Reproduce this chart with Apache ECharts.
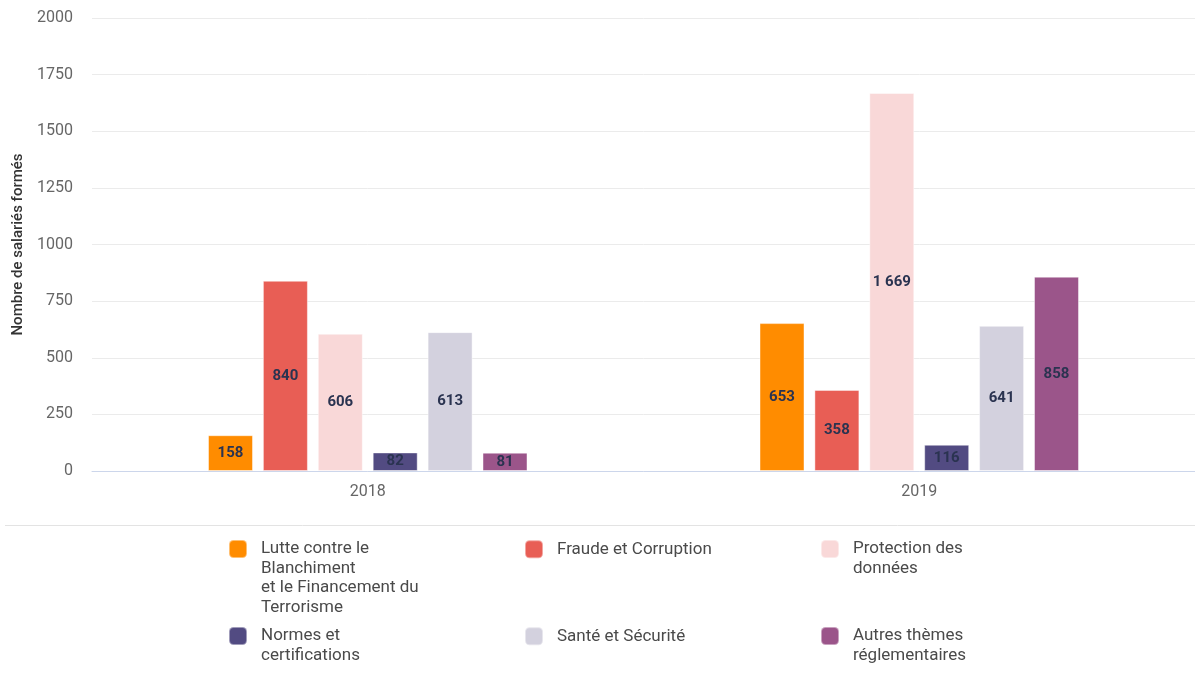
<!DOCTYPE html>
<html>
<head>
<meta charset="utf-8">
<script src="https://cdn.jsdelivr.net/npm/echarts@6/dist/echarts.min.js"></script>
<style>
  html, body { margin: 0; padding: 0; background: #fff; }
  #chart { width: 1195px; height: 673px; }
</style>
</head>
<body>
<div id="chart"></div>
<script>
const years = ['2018', '2019'];
const seriesNames = [
  'Lutte contre le\nBlanchiment\net le Financement du\nTerrorisme',
  'Fraude et Corruption',
  'Protection des\ndonnées',
  'Normes et\ncertifications',
  'Santé et Sécurité',
  'Autres thèmes\nréglementaires'
];
const blanchiment = [158, 653];
const fraude = [840, 358];
const protection = [606, 1669];
const normes = [82, 116];
const sante = [613, 641];
const autres = [81, 858];
const yTicks = [0, 250, 500, 750, 1000, 1250, 1500, 1750, 2000];

const colors = ['#ff8c00', '#e85e55', '#f9d8d8', '#524b82', '#d3d1de', '#9b558a'];
const values = [blanchiment, fraude, protection, normes, sante, autres];

const chart = echarts.init(document.getElementById('chart'));

const lineH = 19.5;
const iconSize = 18;
// legend laid out as 3 columns x 2 rows (icon top-left corners)
const legendPos = [
  [228, 540], [524, 540], [820, 540],
  [228, 627], [524, 627], [820, 627]
];

const legends = seriesNames.map((name, i) => {
  const n = name.split('\n').length;
  // blank lines in front keep the first text line level with the icon;
  // the legend box then reaches above the icon, so lift it by that much
  const overhang = (2 * n - 1) * lineH / 2 - iconSize / 2;
  return {
    data: [name],
    left: legendPos[i][0],
    top: legendPos[i][1] - overhang,
    padding: 0,
    itemWidth: iconSize,
    itemHeight: iconSize,
    icon: 'roundRect',
    selectedMode: false,
    formatter: t => '\n'.repeat(n - 1) + t,
    textStyle: {
      fontFamily: 'Roboto',
      fontSize: 17,
      color: '#4a4a4a',
      lineHeight: lineH,
      padding: [0, 0, 0, 9]
    }
  };
});

const series = seriesNames.map((name, i) => ({
  name: name,
  type: 'bar',
  data: values[i],
  barWidth: 45,
  barGap: '22%',
  itemStyle: {
    color: colors[i],
    borderColor: 'rgba(255,255,255,0.45)',
    borderWidth: 1
  },
  label: {
    show: true,
    position: 'inside',
    fontFamily: 'Roboto',
    fontSize: 15,
    fontWeight: 'bold',
    color: '#2a3350',
    formatter: p => String(p.value).replace(/\B(?=(\d{3})+(?!\d))/g, ' ')
  }
}));

chart.setOption({
  animation: false,
  grid: { left: 92, width: 1105, top: 18, bottom: 202 },
  legend: legends,
  xAxis: {
    type: 'category',
    data: years,
    axisLine: { lineStyle: { color: '#ccd6eb' } },
    axisTick: { alignWithLabel: true, length: 10, lineStyle: { color: '#ccd6eb' } },
    axisLabel: { color: '#666', fontFamily: 'Roboto', fontSize: 16, margin: 13 }
  },
  yAxis: {
    type: 'value',
    min: yTicks[0],
    max: yTicks[yTicks.length - 1],
    interval: yTicks[1] - yTicks[0],
    name: 'Nombre de salariés formés',
    nameLocation: 'middle',
    nameGap: 66,
    nameTextStyle: { color: '#333', fontFamily: 'Roboto', fontSize: 15, fontWeight: 500 },
    axisLine: { show: false },
    axisTick: { show: false },
    axisLabel: {
      color: '#666', fontFamily: 'Roboto', fontSize: 16, margin: 19,
      formatter: v => String(v)
    },
    splitLine: { lineStyle: { color: '#ebebeb' } }
  },
  graphic: [{
    type: 'line',
    shape: { x1: 5, y1: 525.5, x2: 1195, y2: 525.5 },
    style: { stroke: '#e3e3e3', lineWidth: 1 }
  }],
  series: series
});
</script>
</body>
</html>
